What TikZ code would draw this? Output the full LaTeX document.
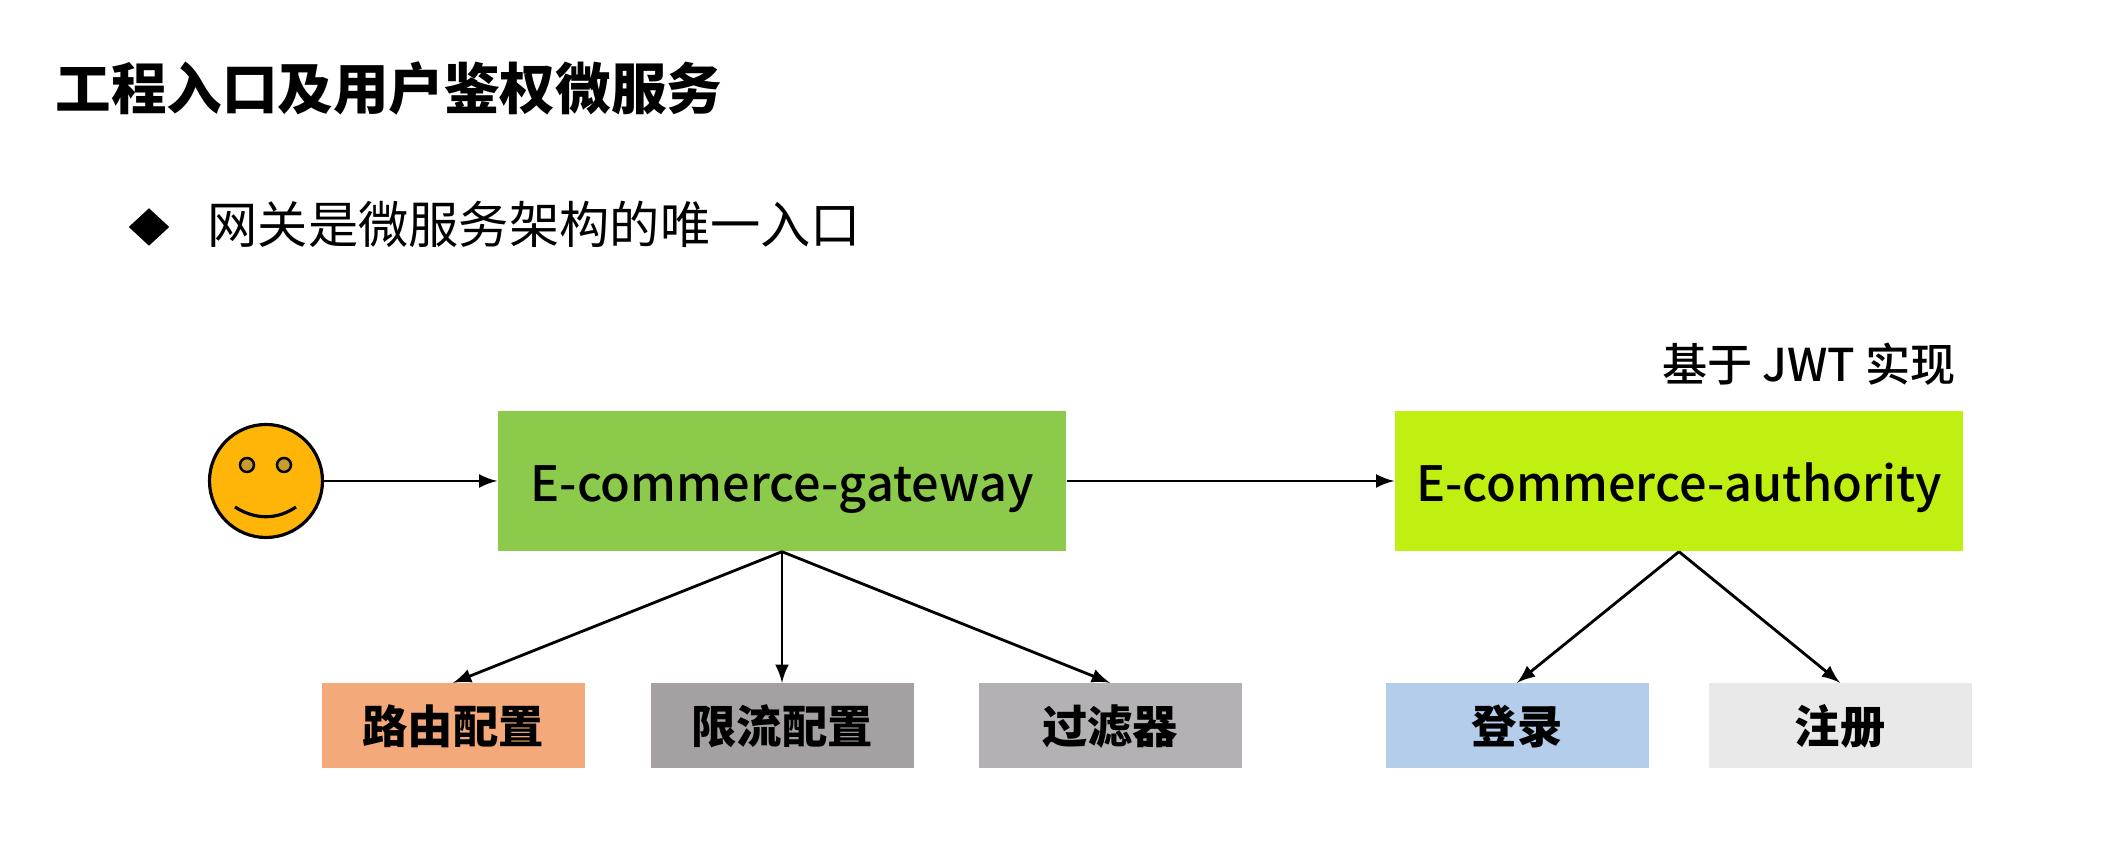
\documentclass[tikz,border=0pt]{standalone}
\usepackage{fontspec}
\setmainfont{Noto Sans CJK SC}
\newfontfamily\medfont{Noto Sans CJK SC Medium}
\usetikzlibrary{shapes.geometric}
\definecolor{gatecolor}{HTML}{8BCA4B}
\definecolor{authcolor}{HTML}{C0F012}
\definecolor{routecolor}{HTML}{F4A97B}
\definecolor{limitcolor}{HTML}{A5A0A1}
\definecolor{filtercolor}{HTML}{B3B1B3}
\definecolor{logincolor}{HTML}{B4CDEB}
\definecolor{regcolor}{HTML}{E9E9E9}
\definecolor{facecolor}{HTML}{FFB508}
\definecolor{eyecolor}{HTML}{C99A2E}
\tikzset{
    svcbox/.style={fill=#1,minimum width=5.68cm,minimum height=1.40cm,inner sep=0pt,text height=0.50cm,text depth=0.08cm,font=\fontsize{13.85pt}{17pt}\medfont},
    taskbox/.style={fill=#1,minimum width=2.63cm,minimum height=0.85cm,inner sep=0pt,text height=0.42cm,text depth=0.06cm,font=\fontsize{12.9pt}{15pt}\selectfont\bfseries},
    link/.style={->,>=latex,line width=0.8pt}
}
\begin{document}
\begin{tikzpicture}
    \useasboundingbox (0,0) rectangle (21.12,-8.5);

    \node[inner sep=0pt,anchor=west,font=\fontsize{15.8pt}{20pt}\selectfont\bfseries] (title) at (0.55,-0.88) {工程入口及用户鉴权微服务};
    \node[diamond,fill=black,inner sep=0pt,minimum width=0.41cm,minimum height=0.38cm] (bullet) at (1.49,-2.27) {};
    \node[inner sep=0pt,anchor=west,font=\fontsize{14.3pt}{18pt}\selectfont] (lead) at (2.07,-2.24) {网关是微服务架构的唯一入口};

    \node[circle,draw,fill=facecolor,line width=0.9pt,inner sep=0pt,minimum size=1.13cm] (smile) at (2.66,-4.81) {};
    \node[circle,draw,fill=eyecolor,line width=0.7pt,inner sep=0pt,minimum size=0.14cm] (eyel) at (2.47,-4.65) {};
    \node[circle,draw,fill=eyecolor,line width=0.7pt,inner sep=0pt,minimum size=0.14cm] (eyer) at (2.84,-4.65) {};
    \draw[line width=0.9pt] (2.35,-5.07) .. controls (2.55,-5.20) and (2.77,-5.20) .. (2.96,-5.07);

    \node[svcbox=gatecolor] (gate) [right of=smile,node distance=5.16cm] {E-commerce-gateway};
    \node[svcbox=authcolor] (auth) [right of=gate,node distance=8.97cm] {E-commerce-authority};
    \node (jwt) [above of=auth,node distance=1.17cm,xshift=1.30cm,inner sep=0pt,font=\fontsize{12.85pt}{15pt}\medfont] {基于 JWT 实现};

    \node[taskbox=limitcolor] (limit) [below of=gate,node distance=2.45cm] {限流配置};
    \node[taskbox=routecolor] (route) [left of=limit,node distance=3.29cm] {路由配置};
    \node[taskbox=filtercolor] (filter) [right of=limit,node distance=3.28cm] {过滤器};
    \node[taskbox=regcolor] (reg) [right of=filter,node distance=7.30cm] {注册};
    \node[taskbox=logincolor] (login) [left of=reg,node distance=3.23cm] {登录};

    \draw[link] (smile) -- (gate);
    \draw[link] (gate) -- (auth);

    \draw[link] (gate.south) -- (route.north);
    \draw[link] (gate.south) -- (limit.north);
    \draw[link] (gate.south) -- (filter.north);

    \draw[link] (auth.south) -- (login.north);
    \draw[link] (auth.south) -- (reg.north);
\end{tikzpicture}
\end{document}
